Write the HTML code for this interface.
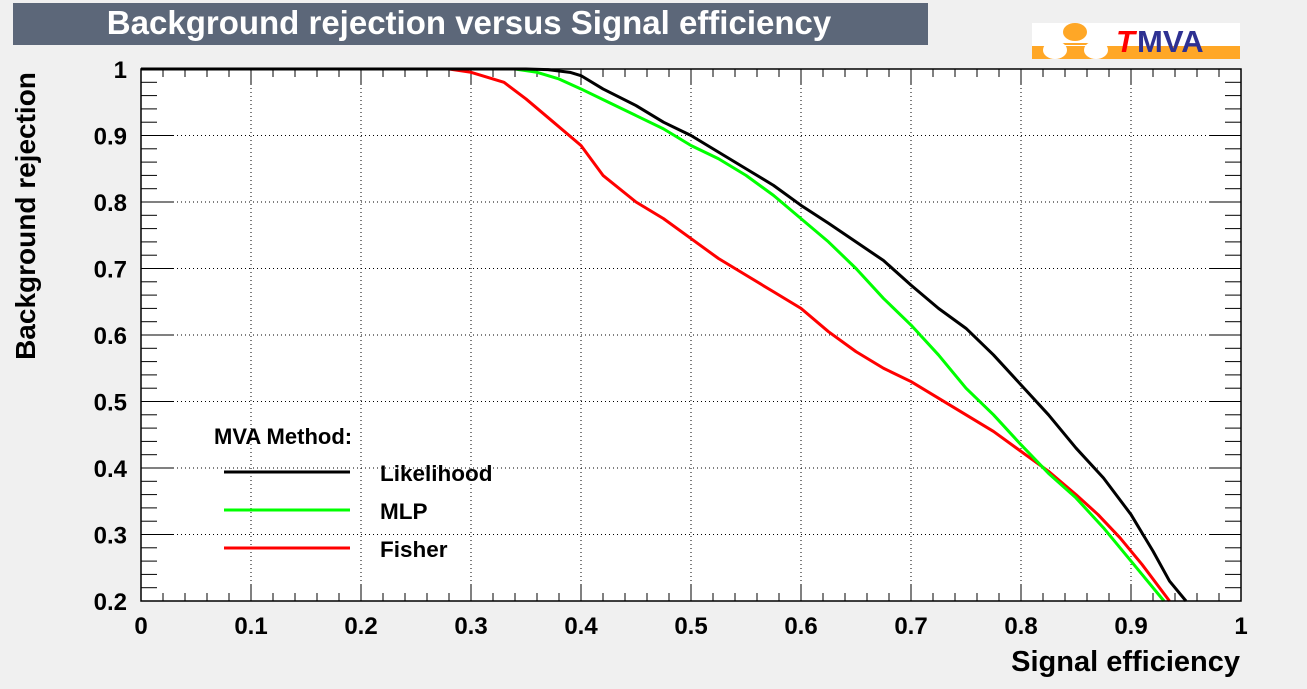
<!DOCTYPE html>
<html><head><meta charset="utf-8"><style>
body{margin:0;background:#f0f0f0;width:1307px;height:684px;overflow:hidden;font-family:"Liberation Sans",sans-serif}
</style></head><body>
<svg id="c" width="1307" height="684" xmlns="http://www.w3.org/2000/svg" font-family="Liberation Sans, sans-serif" font-weight="bold">
<rect x="13" y="3" width="915" height="42" fill="#5c6779"/>
<text x="469" y="34" font-size="33" fill="#fff" text-anchor="middle">Background rejection versus Signal efficiency</text>
<g>
<rect x="1032" y="23" width="208" height="36" fill="#fff"/>
<rect x="1032" y="46" width="208" height="13" fill="#ffa726"/>
<ellipse cx="1075" cy="32" rx="12" ry="9" fill="#ffa726"/>
<line x1="1060" y1="44" x2="1095" y2="44" stroke="#ffa726" stroke-width="2"/>
<ellipse cx="1055" cy="50" rx="12" ry="9" fill="#fff"/>
<ellipse cx="1096" cy="50" rx="12" ry="9" fill="#fff"/>
<text x="1116" y="52" font-size="31" font-style="italic" fill="#f00">T</text>
<text x="1137" y="52" font-size="31" fill="#2e3192">MVA</text>
</g>
<rect x="141" y="69" width="1100" height="532" fill="#fff"/>
<g id="grid"></g><g id="ticks"></g><g id="curves"></g>
<rect x="141" y="69" width="1100" height="532" fill="none" stroke="#000" stroke-width="1.5"/>
<text x="1240" y="671" font-size="29" text-anchor="end">Signal efficiency</text>
<text transform="translate(35,216) rotate(-90)" font-size="28" text-anchor="middle">Background rejection</text>
<g>
<text x="214" y="444" font-size="22">MVA Method:</text>
<g><line x1="224" y1="472" x2="350" y2="472" stroke="#000" stroke-width="3"/><text x="380" y="481" font-size="22.5">Likelihood</text></g>
<g><line x1="224" y1="510" x2="350" y2="510" stroke="#0f0" stroke-width="3"/><text x="380" y="519" font-size="22.5">MLP</text></g>
<g><line x1="224" y1="548" x2="350" y2="548" stroke="#f00" stroke-width="3"/><text x="380" y="557" font-size="22.5">Fisher</text></g>
</g>
</svg>
<script>
const xTicks=[0,0.1,0.2,0.3,0.4,0.5,0.6,0.7,0.8,0.9,1];
const yTicks=[0.2,0.3,0.4,0.5,0.6,0.7,0.8,0.9,1];
const likeX=[0,0.35,0.37,0.39,0.4,0.42,0.45,0.475,0.5,0.525,0.55,0.575,0.6,0.625,0.65,0.675,0.7,0.725,0.75,0.775,0.8,0.825,0.85,0.875,0.9,0.92,0.935,0.95];
const likeY=[1,1,0.999,0.995,0.99,0.97,0.945,0.92,0.9,0.875,0.85,0.825,0.795,0.768,0.74,0.712,0.675,0.64,0.61,0.57,0.525,0.48,0.43,0.385,0.33,0.275,0.23,0.2];
const mlpX=[0,0.34,0.36,0.38,0.4,0.425,0.45,0.475,0.5,0.525,0.55,0.575,0.6,0.625,0.65,0.675,0.7,0.725,0.75,0.775,0.8,0.825,0.85,0.875,0.9,0.915,0.93];
const mlpY=[1,1,0.995,0.985,0.97,0.95,0.93,0.91,0.885,0.865,0.84,0.81,0.775,0.74,0.7,0.655,0.615,0.57,0.52,0.48,0.435,0.392,0.355,0.31,0.26,0.23,0.2];
const fishX=[0,0.28,0.3,0.33,0.35,0.375,0.4,0.42,0.45,0.475,0.5,0.525,0.55,0.575,0.6,0.625,0.65,0.675,0.7,0.725,0.75,0.775,0.8,0.825,0.85,0.87,0.89,0.91,0.935];
const fishY=[1,1,0.995,0.98,0.955,0.92,0.885,0.84,0.8,0.775,0.745,0.715,0.69,0.665,0.64,0.605,0.575,0.55,0.53,0.505,0.48,0.455,0.425,0.395,0.36,0.33,0.295,0.255,0.2];
const X0=141,X1=1241,Y0=601,Y1=69;
const sx=v=>X0+v*(X1-X0);
const sy=v=>Y0-(v-0.2)/0.8*(Y0-Y1);
const NS='http://www.w3.org/2000/svg';
function mk(t,a,p){const e=document.createElementNS(NS,t);for(const k in a)e.setAttribute(k,a[k]);p.appendChild(e);return e;}
const grid=document.getElementById('grid'),ticks=document.getElementById('ticks'),curves=document.getElementById('curves');
xTicks.forEach(v=>{
 const l=mk('line',{x1:sx(v),x2:sx(v),y1:Y0,y2:Y1,stroke:'#000','stroke-width':1,'stroke-dasharray':'1,3'},grid);
 
 
 const t=mk('text',{x:sx(v),y:634,'font-size':24,'text-anchor':'middle'},ticks);
 t.textContent=String(v);
 
 
});
yTicks.forEach(v=>{
 const l=mk('line',{x1:X0,x2:X1,y1:sy(v),y2:sy(v),stroke:'#000','stroke-width':1,'stroke-dasharray':'1,3'},grid);
 
 
 const t=mk('text',{x:127,y:sy(v)+9,'font-size':24,'text-anchor':'end'},ticks);
 t.textContent=String(v);
 
 
});
for(let i=0;i<=50;i++){const v=i/50,L=i%5==0?16:8;
 mk('line',{x1:sx(v),x2:sx(v),y1:Y0,y2:Y0-L,stroke:'#000'},ticks);
 mk('line',{x1:sx(v),x2:sx(v),y1:Y1,y2:Y1+L,stroke:'#000'},ticks);}
for(let i=0;i<=40;i++){const v=0.2+i/50,L=i%5==0?32:16;
 mk('line',{x1:X0,x2:X0+L,y1:sy(v),y2:sy(v),stroke:'#000'},ticks);
 mk('line',{x1:X1,x2:X1-L,y1:sy(v),y2:sy(v),stroke:'#000'},ticks);}
function curve(xs,ys,c,n){const p=mk('polyline',{points:xs.map((x,i)=>sx(x)+','+sy(ys[i])).join(' '),fill:'none',stroke:c,'stroke-width':3,'stroke-linejoin':'round'},curves);
 
 }
curve(fishX,fishY,'#f00','fisher-curve');
curve(mlpX,mlpY,'#0f0','mlp-curve');
curve(likeX,likeY,'#000','likelihood-curve');
</script>
</body></html>
